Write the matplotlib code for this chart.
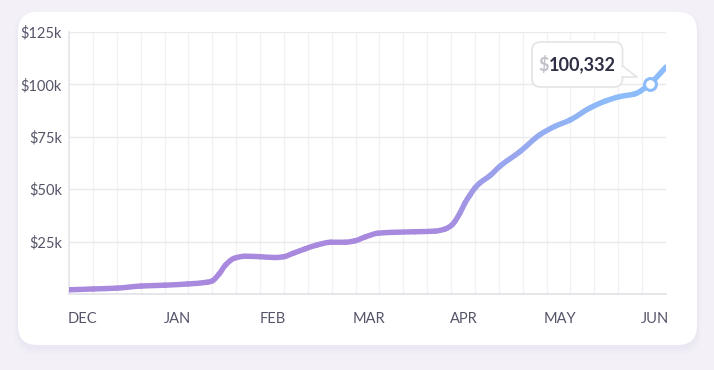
import numpy as np
import matplotlib
matplotlib.use("Agg")
import matplotlib.pyplot as plt
from matplotlib.patches import FancyBboxPatch, Polygon, PathPatch
from matplotlib.path import Path
from matplotlib.colors import to_rgb

# ---- data (x in weekly grid units, y in dollars) ----
x_vals = [0.00, 1.01, 2.01, 3.02, 4.02, 4.98, 5.78, 5.99, 6.28, 6.57, 6.91, 7.37,
          8.00, 8.63, 9.00, 9.38, 9.88, 10.39, 10.97, 11.56, 11.98, 12.40, 12.94,
          13.53, 14.49, 15.33, 15.75, 16.04, 16.37, 16.58, 16.79, 17.00, 17.21,
          17.63, 18.05, 18.89, 19.72, 20.35, 20.98, 21.82, 22.45, 23.07, 23.70,
          24.33, 25.00]
y_vals = [2000, 2400, 2800, 3800, 4200, 4800, 5600, 6200, 9500, 14000, 17000, 18000,
          17800, 17400, 17800, 19400, 21500, 23400, 24700, 24700, 25400, 27200, 29000,
          29400, 29700, 30000, 31000, 33000, 38600, 43400, 47200, 50600, 53000,
          56500, 61000, 68000, 76000, 80000, 83000, 88800, 92000, 94200, 95500,
          100332, 108300]
month_labels = ["DEC", "JAN", "FEB", "MAR", "APR", "MAY", "JUN"]
month_pos = [0.55, 4.55, 8.55, 12.55, 16.55, 20.55, 24.55]
y_ticks = [25000, 50000, 75000, 100000, 125000]
y_tick_labels = ["$25k", "$50k", "$75k", "$100k", "$125k"]
hl_index = 43  # highlighted point ($100,332)

plt.rcParams['font.family'] = ['Lato', 'DejaVu Sans']

W, H = 714, 370
fig = plt.figure(figsize=(W / 100, H / 100), dpi=100)
fig.patch.set_facecolor("#f3f1f7")

def fx(px):
    return px / W

def fy(py):
    return 1 - py / H

# card shadow + card
for i, a in enumerate([0.025, 0.025, 0.03, 0.035]):
    grow = (4 - i) * 2.0
    sh = FancyBboxPatch((fx(18 - grow * 0.5), fy(347 + grow)),
                        fx(679 + grow), (333 + grow * 1.2) / H,
                        boxstyle="round,pad=0,rounding_size=0.03",
                        transform=fig.transFigure, facecolor="#b9a9d9",
                        edgecolor="none", alpha=a, zorder=0, mutation_aspect=W / H)
    fig.patches.append(sh)
card = FancyBboxPatch((fx(18), fy(345)), fx(679), 333 / H,
                      boxstyle="round,pad=0,rounding_size=0.027",
                      transform=fig.transFigure, facecolor="white",
                      edgecolor="none", zorder=1, mutation_aspect=W / H)
fig.patches.append(card)

# axes
ax = fig.add_axes([fx(69), fy(294), fx(666) - fx(69), (294 - 32) / H])
ax.set_facecolor("none")
ax.set_zorder(2)
ax.set_xlim(0, 25)
ax.set_ylim(0, 125000)

for xv in range(0, 26):
    ax.axvline(xv, color="#f1f1f4", lw=0.9, zorder=1)
for yv in y_ticks:
    ax.axhline(yv, color="#e9e9ee", lw=1.0, zorder=1)

for s in ["top", "right"]:
    ax.spines[s].set_visible(False)
ax.spines["left"].set_color("#e6e6eb")
ax.spines["bottom"].set_color("#e0e0e6")
ax.spines["left"].set_linewidth(1.2)
ax.spines["bottom"].set_linewidth(1.2)

ax.set_yticks(y_ticks)
ax.set_yticklabels(y_tick_labels)
ax.set_xticks(month_pos)
ax.set_xticklabels(month_labels)
ax.tick_params(axis="both", length=0, labelsize=10.5, colors="#55556a")
ax.tick_params(axis="y", pad=5)
ax.tick_params(axis="x", pad=13)

# smooth (monotone cubic Bezier) gradient line, one Bezier per data interval
xs = np.array(x_vals, dtype=float)
ys = np.array(y_vals, dtype=float)
n = len(xs)
h = np.diff(xs)
d = np.diff(ys) / h
m = np.zeros(n)
m[0], m[-1] = d[0], d[-1]
for i in range(1, n - 1):
    if d[i - 1] * d[i] <= 0:
        m[i] = 0
    else:
        w1 = 2 * h[i] + h[i - 1]
        w2 = h[i] + 2 * h[i - 1]
        m[i] = (w1 + w2) / (w1 / d[i - 1] + w2 / d[i])

c0 = np.array(to_rgb("#a889de"))
c1 = np.array(to_rgb("#8cbcf9"))
for i in range(n - 1):
    x0, x1, y0, y1 = xs[i], xs[i + 1], ys[i], ys[i + 1]
    hh = x1 - x0
    verts = [(x0, y0), (x0 + hh / 3, y0 + m[i] * hh / 3),
             (x1 - hh / 3, y1 - m[i + 1] * hh / 3), (x1, y1)]
    path = Path(verts, [Path.MOVETO, Path.CURVE4, Path.CURVE4, Path.CURVE4])
    tt = np.clip(((y0 + y1) / 2 - 28000) / (95000 - 28000), 0, 1)
    col = tuple(c0 * (1 - tt) + c1 * tt)
    pp = PathPatch(path, facecolor="none", edgecolor=col, lw=3.9,
                   capstyle="round", joinstyle="round", zorder=3)
    ax.add_patch(pp)

# highlighted marker
ax.plot([x_vals[hl_index]], [y_vals[hl_index]], marker="o", ms=8.5,
        mfc="white", mec="#8cbcf9", mew=2.2, zorder=5)

# tooltip
box = FancyBboxPatch((fx(532), fy(87)), fx(90.5), 45 / H,
                     boxstyle="round,pad=0,rounding_size=0.012",
                     transform=fig.transFigure, facecolor="white",
                     edgecolor="#e4e4e8", lw=1.2, zorder=6, mutation_aspect=W / H)
fig.patches.append(box)
tri = Polygon([(fx(621.5), fy(66)), (fx(637), fy(77)), (fx(621.5), fy(77))],
              closed=True, transform=fig.transFigure, facecolor="white",
              edgecolor="none", zorder=7)
fig.patches.append(tri)
fig.lines.append(plt.Line2D([fx(622.5), fx(637), fx(622.5)],
                            [fy(66), fy(77), fy(77)], transform=fig.transFigure,
                            color="#e4e4e8", lw=1.2, zorder=8))
fig.text(fx(538.5), fy(65), "$", fontsize=13, color="#c0c0c8",
         fontweight="bold", va="center", ha="left", zorder=9)
fig.text(fx(548.5), fy(65), "100,332", fontsize=13, color="#2f2f45",
         fontweight="bold", va="center", ha="left", zorder=9)

fig.savefig("out.png", dpi=100, facecolor=fig.get_facecolor())
